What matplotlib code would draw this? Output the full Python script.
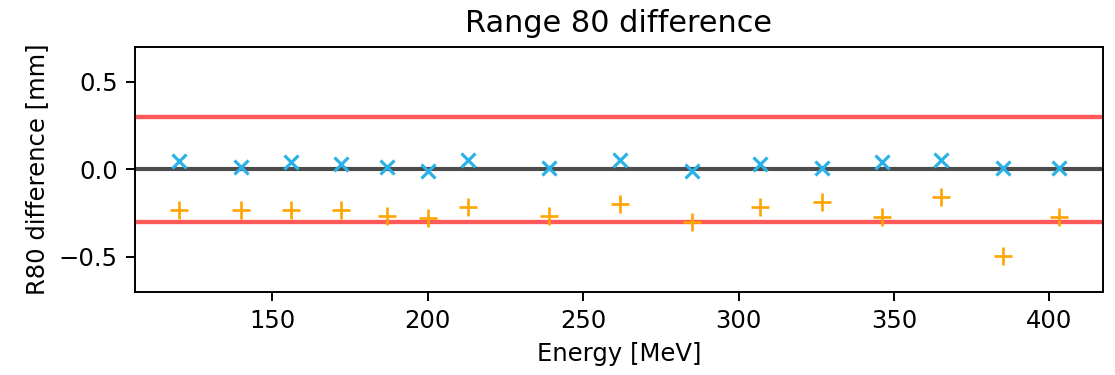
import matplotlib
matplotlib.use("Agg")
import matplotlib.pyplot as plt
import numpy as np

# beam energies [MeV]
energy = np.array([120, 140, 156, 172, 187, 200, 213, 239, 262, 285,
                   307, 327, 346, 365, 385, 403])

# R80 difference [mm], two data sets
diff_a = np.array([0.045, 0.016, 0.04, 0.03, 0.014, -0.01, 0.055, 0.005,
                   0.055, -0.01, 0.03, 0.01, 0.04, 0.055, 0.005, 0.005])
diff_b = np.array([-0.235, -0.23, -0.23, -0.23, -0.265, -0.28, -0.215, -0.265,
                   -0.2, -0.3, -0.215, -0.188, -0.275, -0.158, -0.495, -0.275])

tolerance = 0.3

fig = plt.figure(figsize=(1115 / 175, 375 / 175), dpi=175)
ax = fig.add_axes([0.121, 0.222, 0.868, 0.653])

ax.axhline(tolerance, color="r", alpha=0.65, lw=1.8)
ax.axhline(-tolerance, color="r", alpha=0.65, lw=1.8)
ax.axhline(0, color="k", alpha=0.7, lw=1.7)

ax.plot(energy, diff_a, "x", color="#2ab2e8", markersize=6, mew=1.3)
ax.plot(energy, diff_b, "+", color="orange", markersize=7, mew=1.1)

ax.set_ylim(-0.7, 0.7)
ax.set_title("Range 80 difference", fontsize=12.5)
ax.set_xlabel("Energy [MeV]")
ax.set_ylabel("R80 difference [mm]")

fig.savefig("out.png", dpi=175)
